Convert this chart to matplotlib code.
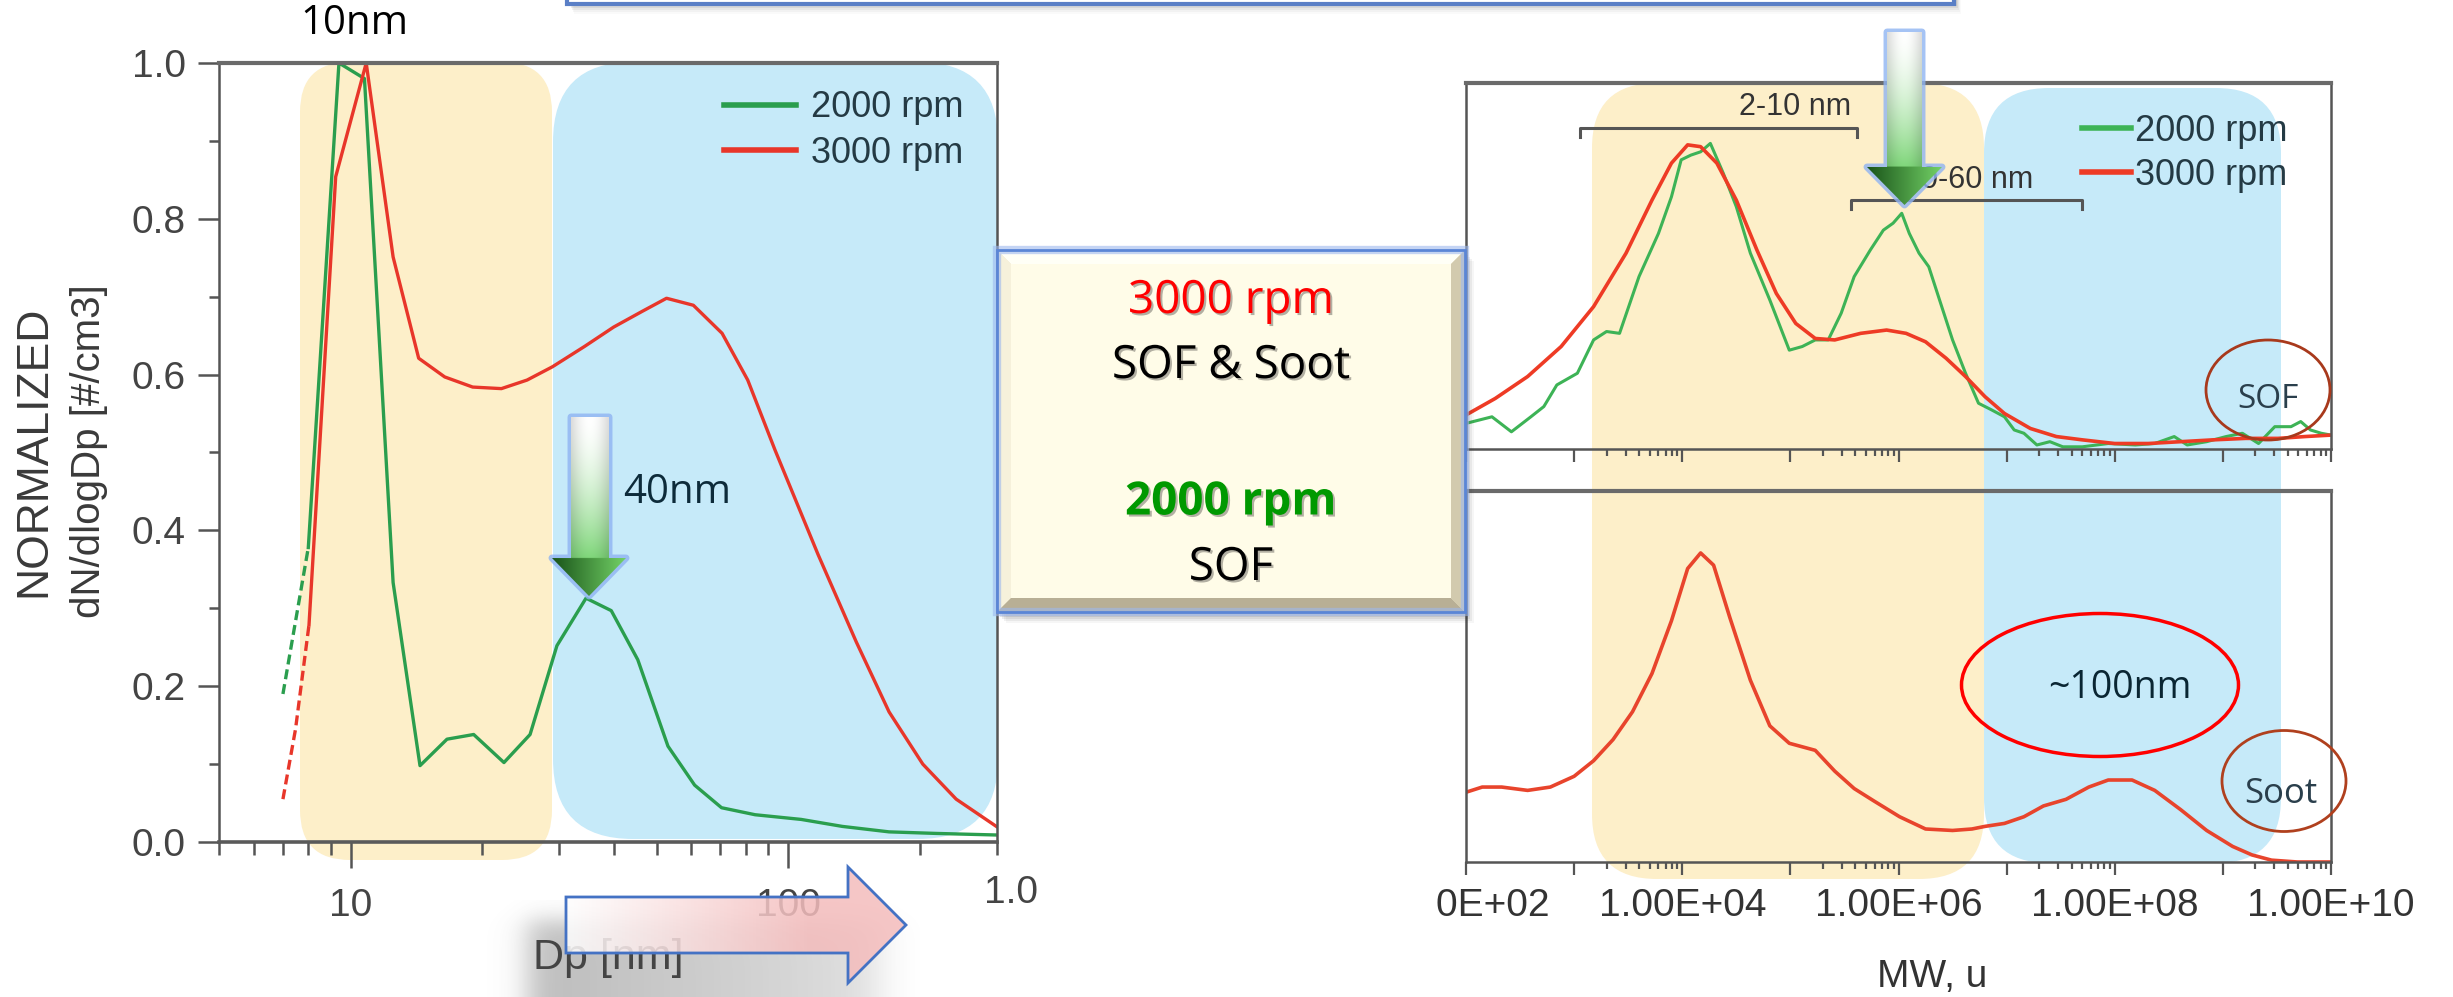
import numpy as np
import matplotlib
matplotlib.use("Agg")
import matplotlib.pyplot as plt
import matplotlib.ticker as mticker
import matplotlib.patheffects as pe
from matplotlib.patches import FancyBboxPatch, Rectangle, Polygon, Ellipse

plt.rcParams['font.family'] = 'Liberation Sans'

# ---- left chart: normalized size distribution ----
dp_2000 = [7.0, 8.0, 9.4, 10.75, 12.5, 14.4, 16.6, 19.1, 22.4, 25.7, 29.6, 34.5, 39.4,
           45.3, 53.1, 61.1, 70.4, 84, 107, 133, 170, 218, 299]
n_2000 = [0.19, 0.378, 1.0, 0.98, 0.333, 0.098, 0.132, 0.138, 0.102, 0.138, 0.252, 0.313,
          0.297, 0.234, 0.123, 0.073, 0.044, 0.035, 0.029, 0.020, 0.013, 0.011, 0.009]
dp_3000 = [7.0, 7.48, 8.03, 9.24, 10.85, 12.5, 14.3, 16.4, 19.0, 22.1, 25.3, 28.9, 34.2,
           39.9, 46.3, 52.7, 60.7, 70.6, 80.8, 93.3, 117, 143, 170, 203, 242, 299]
n_3000 = [0.055, 0.145, 0.279, 0.854, 1.0, 0.751, 0.621, 0.597, 0.584, 0.582, 0.593, 0.61,
          0.636, 0.661, 0.681, 0.698, 0.689, 0.653, 0.593, 0.503, 0.369, 0.257, 0.167,
          0.100, 0.055, 0.020]

# ---- right charts: MW distributions (log10 of MW, u) ----
mw_log_2000 = [2.00, 2.24, 2.42, 2.60, 2.72, 2.84, 3.03, 3.18, 3.30, 3.42, 3.60, 3.78, 3.90,
               3.99, 4.08, 4.17, 4.26, 4.38, 4.50, 4.63, 4.81, 4.99, 5.11, 5.23, 5.35, 5.47,
               5.59, 5.74, 5.86, 5.95, 6.03, 6.10, 6.19, 6.28, 6.38, 6.50, 6.62, 6.74, 6.86,
               6.98, 7.07, 7.16, 7.28, 7.40, 7.52, 7.70, 7.94, 8.19, 8.37, 8.55, 8.67, 8.85,
               9.03, 9.18, 9.33, 9.48, 9.63, 9.72, 9.81, 9.91, 10.0]
sof_2000 = [0.070, 0.088, 0.047, 0.088, 0.116, 0.175, 0.207, 0.298, 0.321, 0.316, 0.471,
            0.589, 0.689, 0.790, 0.803, 0.812, 0.835, 0.753, 0.662, 0.535, 0.407, 0.270,
            0.280, 0.298, 0.298, 0.371, 0.471, 0.544, 0.598, 0.617, 0.644, 0.589, 0.535,
            0.498, 0.407, 0.298, 0.207, 0.125, 0.107, 0.088, 0.052, 0.043, 0.011, 0.020,
            0.006, 0.006, 0.015, 0.011, 0.015, 0.034, 0.011, 0.020, 0.034, 0.043, 0.015,
            0.061, 0.061, 0.075, 0.052, 0.043, 0.038]
mw_log_3000 = [2.00, 2.27, 2.57, 2.88, 3.18, 3.48, 3.72, 3.90, 4.05, 4.17, 4.32, 4.50, 4.69,
               4.87, 5.05, 5.23, 5.41, 5.65, 5.89, 6.07, 6.25, 6.44, 6.62, 6.80, 6.98, 7.22,
               7.46, 7.70, 8.00, 8.31, 8.61, 8.91, 9.21, 9.51, 9.76, 10.0]
sof_3000 = [0.093, 0.138, 0.198, 0.280, 0.389, 0.535, 0.680, 0.781, 0.831, 0.826, 0.781,
            0.680, 0.544, 0.425, 0.343, 0.302, 0.298, 0.316, 0.325, 0.316, 0.293, 0.248,
            0.198, 0.143, 0.097, 0.056, 0.034, 0.025, 0.015, 0.015, 0.020, 0.025, 0.029,
            0.029, 0.034, 0.038]
mw_log_soot = [2.00, 2.15, 2.33, 2.57, 2.78, 3.00, 3.18, 3.36, 3.54, 3.72, 3.90, 4.05, 4.17,
               4.29, 4.44, 4.63, 4.81, 4.99, 5.23, 5.41, 5.59, 5.77, 6.01, 6.25, 6.50, 6.68,
               6.80, 6.98, 7.16, 7.34, 7.55, 7.76, 7.94, 8.16, 8.37, 8.61, 8.85, 9.09, 9.27,
               9.45, 9.69, 10.0]
soot_3000 = [0.188, 0.202, 0.202, 0.193, 0.202, 0.231, 0.273, 0.330, 0.405, 0.508, 0.650,
             0.791, 0.833, 0.800, 0.659, 0.490, 0.367, 0.320, 0.301, 0.245, 0.198, 0.165,
             0.122, 0.089, 0.085, 0.089, 0.096, 0.104, 0.122, 0.151, 0.169, 0.202, 0.221,
             0.221, 0.193, 0.141, 0.085, 0.042, 0.019, 0.005, 0.0, 0.0]

y_ticks = [0.0, 0.2, 0.4, 0.6, 0.8, 1.0]
y_tick_labels = ['0.0', '0.2', '0.4', '0.6', '0.8', '1.0']
mw_label_exps = [2, 4, 6, 8, 10]

GREEN = '#2A9E4E'
RED = '#E8362A'
GREEN_R = '#3DB356'
RED_R = '#EE3B25'
YELLOW = '#FDEFC9'
BLUE = '#C6EAF9'
SPINE = '#555555'

W, H = 2453, 997
fig = plt.figure(figsize=(W / 100, H / 100), dpi=100)


def px_axes(x0, y0, x1, y1, **kw):
    return fig.add_axes([x0 / W, 1 - y1 / H, (x1 - x0) / W, (y1 - y0) / H], **kw)


def pixel_layer(z):
    a = px_axes(0, 0, W, H, zorder=z)
    a.set_xlim(0, W)
    a.set_ylim(H, 0)
    a.axis('off')
    return a


def rounded(ax, x0, y0, x1, y1, r, color, **kw):
    ax.add_patch(FancyBboxPatch((x0, y0), x1 - x0, y1 - y0,
                                boxstyle=f"round,pad=0,rounding_size={r}",
                                fc=color, ec='none', **kw))


# background shading
bg = pixel_layer(0)
rounded(bg, 300, 62, 552, 860, 50, YELLOW)
rounded(bg, 553, 62, 998, 839, 80, BLUE)
rounded(bg, 1592, 83, 1984, 879, 65, YELLOW)
rounded(bg, 1984, 88, 2281, 863, 65, BLUE)

# ---- left axes ----
axL = px_axes(219, 63, 997, 842, zorder=2)
axL.patch.set_alpha(0)
axL.plot(dp_2000[:2], n_2000[:2], color=GREEN, lw=2.4, ls=(0, (3, 1.5)))
axL.plot(dp_2000[1:], n_2000[1:], color=GREEN, lw=2.4, label='2000 rpm')
axL.plot(dp_3000[:3], n_3000[:3], color=RED, lw=2.4, ls=(0, (3, 1.5)))
axL.plot(dp_3000[2:], n_3000[2:], color=RED, lw=2.4, label='3000 rpm')
axL.set_xscale('log')
axL.set_xlim(5, 300)
axL.set_ylim(0, 1)
axL.set_yticks(y_ticks)
axL.set_yticklabels(y_tick_labels)
axL.yaxis.set_minor_locator(mticker.MultipleLocator(0.1))
axL.set_xticks([10, 100])
axL.set_xticklabels(['10', '100'])
axL.xaxis.set_minor_locator(mticker.LogLocator(base=10, subs=np.arange(2, 10)))
axL.xaxis.set_minor_formatter(mticker.NullFormatter())
axL.tick_params(which='both', direction='out', width=1.8, color=SPINE,
                labelsize=28, labelcolor='#444444')
axL.tick_params(axis='y', which='major', length=15, pad=9)
axL.tick_params(axis='y', which='minor', length=7)
axL.tick_params(axis='x', which='major', length=19, pad=14)
axL.tick_params(axis='x', which='minor', length=9)
for s in axL.spines.values():
    s.set_color(SPINE)
    s.set_linewidth(1.8)
axL.spines['top'].set_color('#6a6a6a')
axL.spines['top'].set_linewidth(3)
axL.spines['bottom'].set_color('#5a5a5a')
axL.spines['bottom'].set_linewidth(2.6)
leg = axL.legend(loc='upper left', bbox_to_anchor=(0.649, 0.965), frameon=False,
                 fontsize=26, handlelength=2.0, handletextpad=0.4, labelspacing=0.3,
                 borderpad=0, borderaxespad=0)
for t in leg.get_texts():
    t.set_color('#243A44')
for ln in leg.get_lines():
    ln.set_linewidth(4)

fig.text(34 / W, 1 - 451 / H, 'NORMALIZED', rotation=90, ha='center', va='center',
         fontsize=32, color='#3a3a3a')
fig.text(89 / W, 1 - 451 / H, 'dN/dlogDp [#/cm3]', rotation=90, ha='center', va='center',
         fontsize=29, color='#3a3a3a')

# ---- right axes ----
axT = px_axes(1466, 83, 2331, 449, zorder=2)
axB = px_axes(1466, 491, 2331, 862, zorder=2)
axT.plot(10 ** np.array(mw_log_2000), sof_2000, color=GREEN_R, lw=2.2, label='2000 rpm')
axT.plot(10 ** np.array(mw_log_3000), sof_3000, color=RED_R, lw=2.6, label='3000 rpm')
axB.plot(10 ** np.array(mw_log_soot), soot_3000, color='#E8442C', lw=2.6)

minor_mw = [m * 10.0 ** k for k in (3, 5, 7, 9) for m in range(2, 10)]
for ax in (axT, axB):
    ax.patch.set_alpha(0)
    ax.set_xscale('log')
    ax.set_xlim(1e2, 1e10)
    ax.set_ylim(0, 1)
    ax.set_yticks([])
    ax.xaxis.set_major_locator(mticker.FixedLocator([10.0 ** k for k in range(2, 11)]))
    ax.xaxis.set_minor_locator(mticker.FixedLocator(minor_mw))
    ax.xaxis.set_minor_formatter(mticker.NullFormatter())
    ax.tick_params(which='both', direction='out', width=1.6, color=SPINE,
                   labelsize=28, labelcolor='#333333')
    ax.tick_params(which='major', length=9, pad=10)
    ax.tick_params(which='minor', length=5)
    for s in ax.spines.values():
        s.set_color(SPINE)
        s.set_linewidth(1.8)
    ax.spines['top'].set_color('#6a6a6a')
    ax.spines['top'].set_linewidth(3)

axT.tick_params(labelbottom=False)
axB.xaxis.set_major_formatter(mticker.FuncFormatter(
    lambda v, p: ('1.00E+%02d' % round(np.log10(v))) if round(np.log10(v)) in mw_label_exps else ''))
legR = axT.legend(loc='upper left', bbox_to_anchor=(0.712, 0.915), frameon=False,
                  fontsize=26, handlelength=1.35, handletextpad=0.12, labelspacing=0.25,
                  borderpad=0, borderaxespad=0)
for t in legR.get_texts():
    t.set_color('#243A44')
for ln in legR.get_lines():
    ln.set_linewidth(4)

# ---- foreground annotations ----
fg = pixel_layer(10)


def grad_fill(ax, verts, rgba, z):
    poly = Polygon(verts, closed=True, fc='none', ec='none', transform=ax.transData)
    ax.add_patch(poly)
    xs = [v[0] for v in verts]
    ys = [v[1] for v in verts]
    im = ax.imshow(rgba, extent=(min(xs), max(xs), max(ys), min(ys)), origin='upper',
                   aspect='auto', zorder=z, interpolation='bilinear')
    im.set_clip_path(poly)


def green_arrow(x0, x1, hx0, hx1, ytop, yhead, ytip):
    cx = (hx0 + hx1) / 2
    verts = [(x0, ytop), (x1, ytop), (x1, yhead), (hx1, yhead), (cx, ytip),
             (hx0, yhead), (x0, yhead)]
    hh, ww = 240, 80
    hf = (yhead - ytop) / (ytip - ytop)
    t = np.linspace(0, 1, hh)[:, None] * np.ones((1, ww))
    s = np.ones((hh, 1)) * np.linspace(0, 1, ww)[None, :]
    xpos = (hx0 + s * (hx1 - hx0) - x0) / (x1 - x0)
    white = np.array([1.0, 1.0, 1.0])
    light = np.array([0.50, 0.84, 0.48])
    k = np.clip(t / hf, 0, 1) ** 1.6
    shade = 0.86 + 0.14 * np.sin(np.pi * np.clip(xpos, 0, 1))
    shaft = (white * (1 - k[..., None]) + light * k[..., None]) * shade[..., None]
    dark = np.array([0.10, 0.33, 0.10])
    bright = np.array([0.45, 0.82, 0.40])
    head = dark * (1 - s[..., None]) + bright * s[..., None]
    rgb = np.where((t >= hf)[..., None], head, shaft)
    rgba = np.dstack([np.clip(rgb, 0, 1), np.ones((hh, ww))])
    fg.add_patch(Polygon(verts, closed=True, fc='none', ec='#8FB4F2', lw=5, alpha=0.8,
                         joinstyle='round', zorder=30))
    grad_fill(fg, verts, rgba, 31)


green_arrow(571, 609, 552, 626, 417, 558, 596)
green_arrow(1887, 1922, 1867, 1942, 32, 167, 205)

# soft shadow + Dp label + pink arrow
hh, ww = 100, 440
yy = np.linspace(900, 997, hh)[:, None]
xx = np.linspace(480, 920, ww)[None, :]
sig = lambda z: 1 / (1 + np.exp(-z))
fade = np.clip(1 - (xx - 528) / 420, 0, 1) ** 0.8
alpha = 0.42 * sig((xx - 528) / 9) * sig((880 - xx) / 12) * sig((yy - 920) / 7) * (0.3 + 0.7 * fade)
blob = np.dstack([np.full((hh, ww), 0.38)] * 3 + [alpha])
fg.imshow(blob, extent=(480, 920, 997, 900), origin='upper', aspect='auto', zorder=5,
          interpolation='bilinear')
fg.text(608, 958, 'Dp [nm]', ha='center', va='center', fontsize=31, color='#444444', zorder=6)

pink_verts = [(566, 897), (848, 897), (848, 867), (906, 925), (848, 983), (848, 953), (566, 953)]
pg = np.linspace(0, 1, 200)[None, :] * np.ones((50, 1))
pink = np.array([0.96, 0.74, 0.74])
prgb = np.array([1.0, 1.0, 1.0]) * (1 - pg[..., None]) + pink * np.minimum(pg * 1.4, 1)[..., None] \
    + np.array([1.0, 1.0, 1.0]) * (pg - np.minimum(pg * 1.4, 1))[..., None]
grad_fill(fg, pink_verts, np.dstack([np.clip(prgb, 0, 1), np.full(pg.shape, 0.85)]), 7)
fg.add_patch(Polygon(pink_verts, closed=True, fc='none', ec='#4472C4', lw=2, zorder=8))

fg.text(1011, 893, '1.0', ha='center', va='center', fontsize=28, color='#444444')
fg.text(1932, 977, 'MW, u', ha='center', va='center', fontsize=28, color='#333333')
# the left-most MW label is cropped in the original
fg.add_patch(Rectangle((1300, 885), 136, 60, fc='white', ec='none', zorder=9))

# cropped bar at the top
for i, a in enumerate([0.10, 0.08, 0.06, 0.04, 0.02]):
    fg.add_patch(Rectangle((570 + i, -40), 1387, 46 + i * 2, fc='#303030', alpha=a,
                           ec='none', zorder=11))
fg.add_patch(Rectangle((567, -40), 1387, 44, fc='white', ec='#5A7FC6', lw=3, zorder=12))

# centre bevel box
bx0, by0, bx1, by1 = 997, 250, 1465, 612
bw, bh, b = bx1 - bx0, by1 - by0, 14
for i, a in enumerate([0.10, 0.08, 0.06, 0.04]):
    fg.add_patch(Rectangle((bx0 + 3 + 2 * i, by0 + 5 + 2 * i), bw, bh, fc='#202020', alpha=a,
                           ec='none', zorder=19))
fg.add_patch(Rectangle((bx0, by0), bw, bh, fc='#EFE8CB', ec='none', zorder=20))
fg.add_patch(Polygon([(bx0, by0), (bx1, by0), (bx1 - b, by0 + b), (bx0 + b, by0 + b)],
                     fc='#FFFFF6', ec='none', zorder=21))
fg.add_patch(Polygon([(bx0, by0), (bx0 + b, by0 + b), (bx0 + b, by1 - b), (bx0, by1)],
                     fc='#F6F1DB', ec='none', zorder=21))
fg.add_patch(Polygon([(bx0, by1), (bx0 + b, by1 - b), (bx1 - b, by1 - b), (bx1, by1)],
                     fc='#B8AF95', ec='none', zorder=21))
fg.add_patch(Polygon([(bx1, by0), (bx1, by1), (bx1 - b, by1 - b), (bx1 - b, by0 + b)],
                     fc='#D2CAAE', ec='none', zorder=21))
fg.add_patch(Rectangle((bx0 + b, by0 + b), bw - 2 * b, bh - 2 * b, fc='#FFFCE8', ec='none',
                       zorder=21))
fg.add_patch(Rectangle((bx0, by0), bw, bh, fc='none', ec='#9DB8EE', lw=6, alpha=0.6, zorder=22))
fg.add_patch(Rectangle((bx0, by0), bw, bh, fc='none', ec='#5B86D6', lw=2, zorder=22))

shadow = [pe.withSimplePatchShadow(offset=(1.5, -1.5), shadow_rgbFace='k', alpha=0.3)]
cx = (bx0 + bx1) / 2
box_lines = [('3000 rpm', 301, '#FF0000', 'normal'),
             ('SOF & Soot', 366, 'black', 'normal'),
             ('2000 rpm', 502, '#009900', 'bold'),
             ('SOF', 568, 'black', 'normal')]
for txt, y, c, wt in box_lines:
    fg.text(cx, y, txt, ha='center', va='center', fontsize=33, color=c, fontweight=wt,
            family='Open Sans', zorder=25, path_effects=shadow)

# labels and marks
fg.text(354, 24, '10nm', ha='center', va='center', fontsize=29, family='Open Sans',
        color='black', zorder=15)
fg.text(623, 493, '40nm', ha='left', va='center', fontsize=29, family='Open Sans',
        color='#0D2B3A', zorder=15)
fg.text(2120, 688, '~100nm', ha='center', va='center', fontsize=27, family='Open Sans',
        color='#0A2633', zorder=15)
fg.text(2268, 399, 'SOF', ha='center', va='center', fontsize=24, family='Open Sans',
        color='#2A3F4C', zorder=15)
fg.text(2281, 794, 'Soot', ha='center', va='center', fontsize=25, family='Open Sans',
        color='#2A3F4C', zorder=15)
fg.add_patch(Ellipse((2268, 390), 124, 100, fill=False, ec='#A8391C', lw=2, zorder=15))
fg.add_patch(Ellipse((2100, 685), 277, 143, fill=False, ec='#FF0000', lw=2.5, zorder=15))
fg.add_patch(Ellipse((2284, 781), 124, 101, fill=False, ec='#B0401E', lw=2, zorder=15))

fg.plot([1580, 1580, 1857, 1857], [137, 128, 128, 137], color='#555555', lw=2.2, zorder=14)
fg.plot([1851, 1851, 2082, 2082], [209, 200, 200, 209], color='#555555', lw=2.2, zorder=14)
fg.text(1795, 107, '2-10 nm', ha='center', va='center', fontsize=22, color='#333333', zorder=14)
fg.text(2033, 180, '20-60 nm', ha='right', va='center', fontsize=22, color='#333333', zorder=14)

fg.set_xlim(0, W)
fg.set_ylim(H, 0)

fig.savefig('out.png', dpi=100)
